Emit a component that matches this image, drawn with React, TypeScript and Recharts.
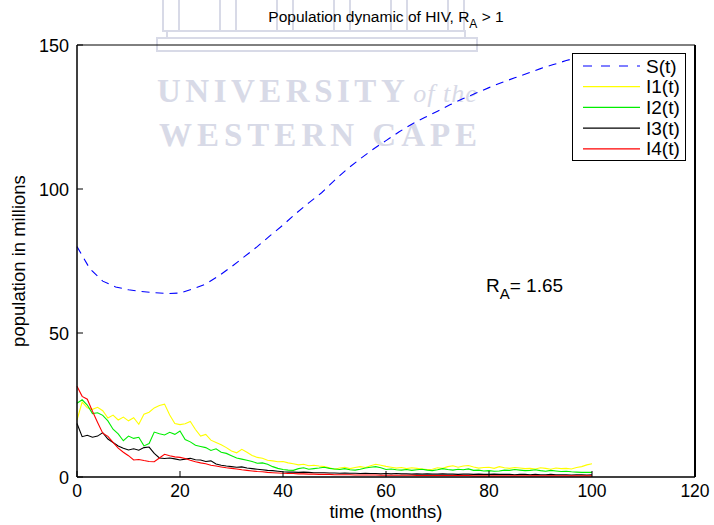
import React from 'react';
import { LineChart, Line, XAxis, YAxis, Legend } from 'recharts';

// Time grid for the stochastic infected classes (months)
const months: number[] = Array.from({ length: 101 }, (_, i) => i);

// Susceptible population S(t), sampled every 2.5 months
const sMonths = [
  0, 2.5, 5, 7.5, 10, 12.5, 15, 17.5, 20, 22.5, 25, 27.5, 30, 32.5, 35, 37.5, 40,
  42.5, 45, 47.5, 50, 52.5, 55, 57.5, 60, 62.5, 65, 67.5, 70, 72.5, 75, 77.5, 80,
  82.5, 85, 87.5, 90, 92.5, 95, 97.5, 100,
];
const sValues = [
  80, 72.3, 68, 66, 65, 64.4, 64, 63.7, 63.9, 65.3, 67, 69.8, 73, 76.5, 80, 83.8,
  87.5, 91.5, 95.2, 98.7, 103, 107, 110.5, 113.8, 116.8, 119.8, 122.5, 124.8, 127,
  129.3, 131.4, 133.3, 135.2, 137, 138.6, 140.2, 141.8, 143.2, 144.6, 145.8, 147,
];

// Infected classes I1..I4 (millions), one value per month
const i1Values = [
  19.8, 26.0, 24.0, 23.5, 24.2, 23.0, 20.5, 21.5, 19.8, 20.8,
  19.5, 20.6, 18.3, 21.8, 22.5, 24.0, 24.8, 25.3, 21.5, 18.6,
  18.2, 18.5, 19.3, 16.5, 14.2, 14.8, 12.8, 12.0, 11.2, 10.2,
  9.0, 8.4, 9.6, 8.6, 7.5, 6.8, 6.5, 5.8, 5.6, 5.3,
  5.4, 4.9, 4.6, 4.2, 4.4, 3.9, 4.1, 3.8, 3.6, 3.2,
  2.7, 3.1, 3.4, 2.9, 3.3, 3.6, 3.3, 3.9, 4.4, 4.1,
  3.7, 3.4, 3.1, 3.3, 2.9, 3.2, 3.0, 2.8, 2.6, 2.7,
  3.2, 3.0, 3.6, 3.9, 3.4, 3.8, 4.0, 3.5, 3.1, 3.3,
  3.4, 3.0, 3.6, 3.2, 3.0, 3.3, 3.1, 2.9, 3.0, 2.8,
  3.2, 3.0, 2.7, 3.1, 2.9, 3.0, 2.8, 3.3, 3.6, 4.2,
  4.6,
];
const i2Values = [
  25.6, 26.8, 25.0, 22.0, 22.3, 21.4, 19.5, 16.6, 15.0, 12.6,
  14.2, 13.4, 13.8, 10.8, 11.6, 15.6, 15.0, 14.6, 15.5, 14.8,
  16.0, 13.0, 12.2, 11.0, 10.6, 10.2, 9.2, 9.8, 8.6, 8.2,
  7.4, 6.6, 6.2, 5.8, 5.4, 4.8, 4.9, 4.4, 3.6, 3.0,
  2.6, 2.4, 2.3, 2.9, 3.2, 2.7, 2.9, 3.1, 3.4, 3.0,
  2.8, 2.6, 2.9, 2.5, 2.4, 2.7, 3.1, 3.4, 3.6, 3.2,
  2.6, 2.8, 2.5, 2.4, 2.6, 2.3, 2.5, 2.7, 2.4, 2.2,
  2.5, 2.9, 2.6, 2.4, 2.7, 2.5, 2.8, 2.3, 2.4, 2.1,
  2.2, 2.0, 2.1, 2.4, 2.3, 2.6, 2.4, 2.2, 2.3, 2.5,
  2.2, 2.0, 2.3, 2.1, 1.9, 2.0, 1.8, 1.7, 1.6, 1.6,
  1.6,
];
const i3Values = [
  18.6, 14.0, 14.5, 13.8, 14.2, 15.4, 13.2, 12.0, 10.8, 10.0,
  9.4, 9.8, 9.3, 10.2, 10.4, 8.2, 6.6, 6.4, 6.6, 6.3,
  5.9, 6.2, 6.5, 6.0, 5.9, 5.4, 5.6, 4.5, 4.1, 3.8,
  3.6, 3.4, 3.5, 3.1, 2.9, 2.7, 2.5, 2.3, 2.2, 2.0,
  1.8, 1.7, 1.7, 1.6, 1.7, 1.6, 1.5, 1.5, 1.5, 1.4,
  1.4, 1.3, 1.4, 1.3, 1.3, 1.2, 1.3, 1.2, 1.2, 1.1,
  1.2, 1.1, 1.2, 1.1, 1.1, 1.0, 1.1, 1.0, 1.1, 1.0,
  1.0, 1.1, 1.0, 1.0, 0.9, 1.0, 1.0, 0.9, 1.0, 0.9,
  0.9, 1.0, 0.9, 0.9, 0.9, 0.8, 0.9, 0.9, 0.8, 0.9,
  0.8, 0.8, 0.9, 0.8, 0.8, 0.8, 0.7, 0.8, 0.8, 0.7,
  0.8,
];
const i4Values = [
  31.5, 28.0, 27.0, 22.8, 18.9, 15.2, 14.1, 12.0, 10.0, 8.6,
  7.4, 5.9, 6.1, 5.7, 5.4, 5.3, 6.6, 7.9, 7.4, 7.0,
  6.8, 6.4, 5.8, 5.3, 4.9, 4.6, 4.1, 3.8, 3.5, 3.2,
  3.0, 2.8, 2.5, 2.3, 2.1, 1.9, 1.8, 1.6, 1.5, 1.4,
  1.3, 1.2, 1.2, 1.1, 1.1, 1.0, 1.0, 0.9, 0.9, 0.9,
  0.8, 0.8, 0.8, 0.8, 0.7, 0.7, 0.7, 0.7, 0.7, 0.6,
  0.6, 0.6, 0.6, 0.6, 0.6, 0.6, 0.5, 0.5, 0.5, 0.5,
  0.5, 0.5, 0.5, 0.5, 0.5, 0.5, 0.5, 0.4, 0.4, 0.4,
  0.4, 0.4, 0.4, 0.4, 0.4, 0.4, 0.4, 0.4, 0.4, 0.4,
  0.4, 0.4, 0.4, 0.4, 0.4, 0.4, 0.4, 0.4, 0.4, 0.4,
  0.4,
];

const xTicks = [0, 20, 40, 60, 80, 100, 120];
const yTicks = [0, 50, 100, 150];

const sRows = sMonths.map((t, i) => ({ t, s: sValues[i] }));
const iRows = months.map((t, i) => ({
  t,
  i1: i1Values[i],
  i2: i2Values[i],
  i3: i3Values[i],
  i4: i4Values[i],
}));

const series = [
  { key: 's', name: 'S(t)', color: '#0000ff', dash: '8 6', rows: sRows },
  { key: 'i1', name: 'I1(t)', color: '#ffff00', dash: undefined, rows: iRows },
  { key: 'i2', name: 'I2(t)', color: '#00ee00', dash: undefined, rows: iRows },
  { key: 'i3', name: 'I3(t)', color: '#000000', dash: undefined, rows: iRows },
  { key: 'i4', name: 'I4(t)', color: '#ff0000', dash: undefined, rows: iRows },
];

const FONT = '"Liberation Sans", Arial, Helvetica, sans-serif';
const SERIF = '"Liberation Serif", "Times New Roman", serif';
const TICK_LEN = 6;

const BottomTick = (props: any) => {
  const { x, y, payload } = props;
  return (
    <g>
      <line x1={x} y1={y} x2={x} y2={y - TICK_LEN} stroke="#000" />
      <text x={x} y={y + 20} textAnchor="middle" fontSize={17.5} fontFamily={FONT} fill="#000">
        {payload.value}
      </text>
    </g>
  );
};

const LeftTick = (props: any) => {
  const { x, y, payload } = props;
  return (
    <g>
      <line x1={x} y1={y} x2={x + TICK_LEN} y2={y} stroke="#000" />
      <text x={x - 8} y={y + 6.5} textAnchor="end" fontSize={18} fontFamily={FONT} fill="#000">
        {payload.value}
      </text>
    </g>
  );
};

const TopTick = (props: any) => {
  const { x, y } = props;
  return <line x1={x} y1={y} x2={x} y2={y + TICK_LEN} stroke="#000" />;
};

const RightTick = (props: any) => {
  const { x, y } = props;
  return <line x1={x} y1={y} x2={x - TICK_LEN} y2={y} stroke="#000" />;
};

const LegendBox = () => (
  <div
    style={{
      width: 114,
      height: 108,
      boxSizing: 'border-box',
      border: '1.5px solid #000',
      background: '#fff',
    }}
  >
    <svg width={111} height={105} style={{ display: 'block' }}>
      {series.map((s, i) => {
        const cy = 12 + i * 20.7;
        return (
          <g key={s.key}>
            <line
              x1={10}
              x2={67}
              y1={cy}
              y2={cy}
              stroke={s.color}
              strokeWidth={1.2}
              strokeDasharray={s.dash ? '9 9' : undefined}
            />
            <text x={73} y={cy + 6.5} fontSize={19} fontFamily={FONT} fill="#000">
              {s.name}
            </text>
          </g>
        );
      })}
    </svg>
  </div>
);

// Faint university crest and name printed behind the plot, plus titles
const Backdrop = () => {
  const pillars = [163, 220, 277, 334, 391, 448];
  const ink = '#d8dae7';
  return (
    <svg width={714} height={525} style={{ position: 'absolute', left: 0, top: 0 }}>
      <rect x={0} y={0} width={714} height={525} fill="#fff" />
      {pillars.map((px) => (
        <rect key={px} x={px} y={-2} width={16} height={33} fill="none" stroke={ink} strokeWidth={2} />
      ))}
      <rect x={167} y={31} width={298} height={7} fill="none" stroke={ink} strokeWidth={2} />
      <rect x={157} y={38} width={320} height={13} fill="none" stroke={ink} strokeWidth={2} />
      <text x={157} y={102} fontFamily={SERIF} fontWeight="bold" fontSize={33} letterSpacing={4.5} fill={ink}>
        UNIVERSITY
        <tspan fontStyle="italic" fontWeight="normal" fontSize={26} letterSpacing={1} dx={4}>
          of the
        </tspan>
      </text>
      <text x={159} y={146} fontFamily={SERIF} fontWeight="bold" fontSize={33} letterSpacing={5} fill={ink}>
        WESTERN CAPE
      </text>

      <text x={386} y={22} textAnchor="middle" fontSize={15.5} fontFamily={FONT} fill="#000">
        Population dynamic of HIV, R
        <tspan dy={6} fontSize={12}>A</tspan>
        <tspan dy={-6}> &gt; 1</tspan>
      </text>
      <text
        x={0}
        y={0}
        transform="translate(25 261) rotate(-90)"
        textAnchor="middle"
        fontSize={18.5}
        fontFamily={FONT}
        fill="#000"
      >
        population in millions
      </text>
      <text x={386} y={518} textAnchor="middle" fontSize={18.5} fontFamily={FONT} fill="#000">
        time (months)
      </text>
      <text x={486} y={292} fontSize={19} fontFamily={FONT} fill="#000">
        R<tspan dy={7} fontSize={15}>A</tspan>
        <tspan dy={-7}>= 1.65</tspan>
      </text>
    </svg>
  );
};

export default function App() {
  return (
    <div style={{ position: 'absolute', left: 0, top: 0, width: 714, height: 525, background: '#fff' }}>
      <Backdrop />
      <div style={{ position: 'absolute', left: 0, top: 0 }}>
        <LineChart width={714} height={525} margin={{ top: 44, right: 18, bottom: 47, left: 76 }}>
          <XAxis
            xAxisId="b"
            dataKey="t"
            type="number"
            domain={[0, 120]}
            ticks={xTicks}
            height={1}
            tickSize={0}
            tickMargin={0}
            tickLine={false}
            tick={<BottomTick />}
            axisLine={{ stroke: '#000', strokeWidth: 1.5 }}
            allowDuplicatedCategory={false}
          />
          <XAxis
            xAxisId="top"
            orientation="top"
            type="number"
            domain={[0, 120]}
            ticks={xTicks}
            height={1}
            tickSize={0}
            tickMargin={0}
            tickLine={false}
            tick={<TopTick />}
            axisLine={{ stroke: '#000', strokeWidth: 1 }}
          />
          <YAxis
            yAxisId="l"
            type="number"
            domain={[0, 150]}
            ticks={yTicks}
            width={1}
            tickSize={0}
            tickMargin={0}
            tickLine={false}
            tick={<LeftTick />}
            axisLine={{ stroke: '#000', strokeWidth: 1.5 }}
          />
          <YAxis
            yAxisId="r"
            orientation="right"
            type="number"
            domain={[0, 150]}
            ticks={yTicks}
            width={1}
            tickSize={0}
            tickMargin={0}
            tickLine={false}
            tick={<RightTick />}
            axisLine={{ stroke: '#000', strokeWidth: 2 }}
          />
          {series.map((s) => (
            <Line
              key={s.key}
              xAxisId="b"
              yAxisId="l"
              data={s.rows}
              dataKey={s.key}
              name={s.name}
              type="linear"
              stroke={s.color}
              strokeWidth={1.1}
              strokeDasharray={s.dash}
              dot={false}
              activeDot={false}
              isAnimationActive={false}
            />
          ))}
          <Legend
            layout="vertical"
            align="center"
            verticalAlign="middle"
            wrapperStyle={{ left: 572, top: 53, width: 114, height: 108 }}
            content={() => <LegendBox />}
          />
        </LineChart>
      </div>
    </div>
  );
}
